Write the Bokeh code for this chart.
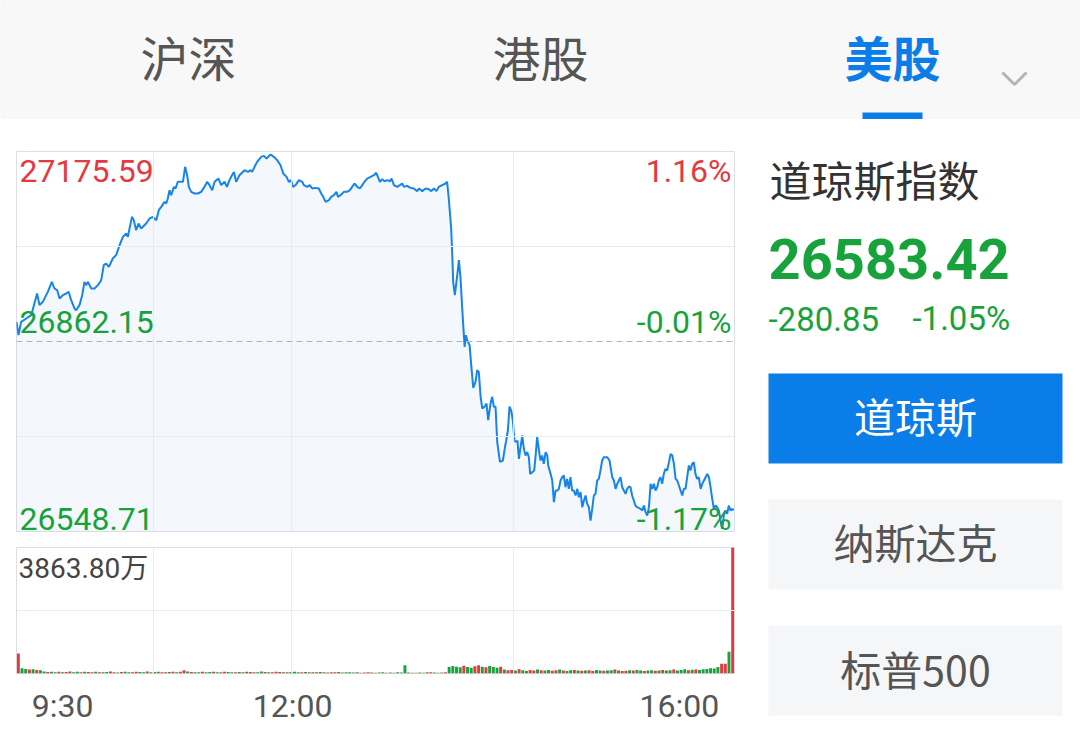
from bokeh.plotting import figure
from bokeh.models import ColumnDataSource, Range1d, Span, FixedTicker
from bokeh.layouts import column, row
from bokeh.core.properties import value
from bokeh.embed import file_html
from bokeh.resources import INLINE

# ---------------- data ----------------
tabs = ["沪深", "港股", "美股"]
index_name = "道琼斯指数"
last_price = "26583.42"
change = "-280.85"
change_pct = "-1.05%"
buttons = ["道琼斯", "纳斯达克", "标普500"]

price_high = 27175.59
price_low = 26548.71
price_mid = 26862.15
left_labels = ["27175.59", "26862.15", "26548.71"]
pct_labels = ["1.16%", "-0.01%", "-1.17%"]
vol_max = 3863.80
vol_max_label = "3863.80万"
time_labels = ["9:30", "12:00", "16:00"]
time_ticks = [25, 150, 360]          # minutes after 9:30 where the labels sit
grid_minutes = [74.4, 149.4, 270.0]  # vertical grid lines

minutes = [
    0.0, 1.1, 2.5, 5.3, 8.0, 11.2, 12.5, 14.3, 16.1, 17.0, 19.2, 20.6, 22.1, 23.4, 25.2, 27.0,
    28.3, 29.7, 31.5, 32.4, 34.2, 35.7, 36.9, 37.8, 38.8, 40.6, 42.4, 44.2, 46.0, 47.4, 48.7,
    50.2, 52.3, 54.1, 56.0, 57.8, 59.6, 60.5, 61.4, 62.7, 63.7, 65.0, 66.3, 67.7, 70.4, 72.3,
    74.1, 75.9, 77.3, 78.6, 80.4, 81.3, 82.2, 83.1, 84.0, 85.5, 86.4, 87.6, 90.4, 91.6, 92.7,
    93.6, 94.9, 96.7, 98.5, 100.3, 102.1, 103.6, 104.8, 106.3, 107.6, 109.7, 111.2, 113.0,
    114.3, 115.7, 116.6, 118.1, 119.3, 121.1, 123.9, 125.7, 127.1, 128.0, 129.3, 130.7, 132.9,
    134.4, 135.8, 138.0, 139.8, 141.6, 143.4, 144.9, 146.7, 147.9, 149.2, 150.1, 151.6, 153.4,
    155.2, 156.1, 157.9, 159.3, 160.6, 162.4, 164.2, 165.5, 166.6, 167.9, 169.7, 170.9, 172.4,
    173.8, 174.6, 176.0, 177.8, 179.6, 181.1, 182.3, 183.6, 185.1, 186.5, 187.8, 189.0, 190.5,
    192.3, 194.1, 195.4, 196.3, 197.4, 198.6, 199.9, 201.4, 202.8, 203.7, 205.0, 206.8, 208.2,
    209.5, 210.4, 212.2, 214.0, 215.8, 217.6, 218.6, 220.4, 222.2, 224.0, 225.3, 226.7, 228.1,
    229.4, 231.2, 233.0, 233.9, 234.8, 236.1, 236.7, 237.2, 238.1, 239.4, 240.3, 241.2, 242.1,
    243.0, 243.4, 244.1, 244.8, 246.1, 247.0, 248.1, 249.3, 250.2, 251.1, 252.1, 253.0, 254.2,
    255.3, 256.2, 257.5, 258.4, 259.3, 260.2, 261.1, 262.6, 264.2, 265.3, 266.0, 266.9, 267.8,
    268.7, 269.6, 270.5, 271.4, 272.1, 272.9, 273.8, 274.7, 275.6, 276.5, 277.4, 278.3, 279.0,
    280.1, 281.2, 281.9, 282.8, 283.7, 284.6, 285.5, 286.4, 287.4, 288.3, 288.8, 290.1, 291.0,
    291.9, 292.8, 293.7, 294.6, 295.5, 296.4, 297.3, 298.2, 299.1, 300.0, 300.9, 301.8, 302.7,
    303.7, 304.6, 305.5, 306.4, 307.3, 308.2, 309.1, 310.0, 310.9, 311.8, 312.7, 313.6, 314.5,
    315.4, 316.3, 317.2, 318.1, 319.0, 320.9, 322.1, 322.7, 323.6, 324.5, 325.4, 326.3, 327.2,
    328.1, 329.0, 329.9, 330.8, 331.7, 332.6, 333.5, 334.4, 335.3, 336.2, 337.1, 339.0, 339.9,
    340.8, 341.7, 342.6, 343.5, 344.0, 344.4, 345.3, 346.2, 347.1, 348.0, 348.9, 349.8, 350.7,
    351.6, 352.5, 353.4, 354.4, 355.3, 356.2, 357.1, 358.0, 358.9, 359.8, 360.7, 361.6, 362.5,
    363.4, 364.3, 365.2, 366.1, 367.0, 367.9, 368.8, 369.7, 370.6, 371.6, 372.5, 373.4, 374.3,
    375.2, 376.1, 377.0, 377.9, 378.8, 379.7, 380.6, 381.5, 382.4, 383.3, 384.2, 385.1, 386.0,
    386.9, 387.8, 388.8, 389.5,
]
prices = [
    26894.6, 26872.6, 26894.6, 26900.1, 26905.6, 26941.3, 26922.1, 26927.6, 26938.6, 26944.1,
    26960.6, 26949.6, 26946.8, 26933.1, 26938.6, 26941.3, 26944.1, 26930.3, 26916.6, 26913.8,
    26922.1, 26938.6, 26960.6, 26955.1, 26960.6, 26949.6, 26949.6, 26955.1, 26963.3, 26988.1,
    26990.8, 26985.3, 26999.1, 27004.6, 27021.0, 27034.8, 27040.3, 27034.8, 27048.6, 27067.8,
    27062.3, 27045.8, 27056.8, 27048.6, 27056.8, 27065.1, 27067.8, 27062.3, 27078.8, 27084.3,
    27092.5, 27089.8, 27098.0, 27111.8, 27103.5, 27117.3, 27114.5, 27125.6, 27125.6, 27150.3,
    27136.5, 27117.3, 27109.0, 27106.3, 27106.3, 27109.0, 27117.3, 27125.6, 27120.1, 27111.8,
    27125.6, 27131.0, 27120.1, 27125.6, 27117.3, 27128.3, 27133.8, 27142.0, 27125.6, 27136.5,
    27144.8, 27142.0, 27144.8, 27142.0, 27150.3, 27158.5, 27166.8,
    27168.4, 27164.0, 27170.6, 27166.8, 27161.3, 27153.0, 27139.3, 27133.8, 27125.6, 27128.3,
    27117.3, 27120.1, 27128.3, 27125.6, 27120.1, 27117.3, 27120.1, 27114.5, 27115.6, 27114.5,
    27106.3, 27100.8, 27092.5, 27095.3, 27100.8, 27103.5, 27109.0, 27100.8, 27103.5, 27109.0,
    27109.0, 27111.8, 27117.3, 27122.8, 27117.3, 27114.5, 27120.1, 27125.6, 27131.0, 27133.8,
    27136.5, 27140.4, 27133.8, 27125.6, 27130.0, 27126.6, 27128.3, 27126.6, 27131.0, 27120.1,
    27117.3, 27120.1, 27122.8, 27117.3, 27119.0, 27115.6, 27114.5, 27110.2, 27114.5, 27110.2,
    27114.5, 27113.4, 27110.2, 27114.5, 27110.2, 27117.3, 27120.1, 27122.8, 27125.6, 27098.0,
    27048.6, 27004.6, 26960.6, 26938.6, 26971.6, 26996.3, 26966.1, 26916.6, 26872.6, 26853.3,
    26872.6, 26864.3, 26856.1, 26823.1, 26785.7, 26795.6, 26814.9, 26812.1, 26770.9, 26751.6,
    26754.4, 26759.9, 26732.4, 26759.9, 26770.9, 26754.4, 26754.4, 26696.6, 26663.6,
    26665.8, 26687.8, 26698.8, 26715.3, 26754.9, 26748.3, 26731.8, 26698.8, 26696.1, 26698.8,
    26668.6, 26687.8, 26707.1, 26685.1, 26674.1, 26679.6, 26671.3, 26643.8, 26646.6, 26649.3,
    26671.3, 26704.3, 26685.1, 26665.8, 26674.1, 26660.3, 26679.6, 26674.1, 26657.6, 26643.8,
    26632.8, 26597.1, 26616.3, 26616.3, 26619.1, 26632.8, 26638.3, 26641.1, 26621.8, 26635.6,
    26619.1, 26638.3, 26616.3, 26616.3, 26608.1, 26619.1, 26605.3, 26613.6, 26588.8, 26599.8,
    26608.1, 26594.3, 26588.8, 26566.8, 26586.1, 26608.1, 26610.8, 26632.8, 26635.6, 26649.3,
    26665.8, 26671.3, 26671.3, 26665.8, 26654.8, 26638.3, 26632.8, 26619.1, 26627.3, 26632.8,
    26638.3, 26621.8, 26616.3, 26610.8, 26619.1, 26622.9, 26621.8, 26608.1, 26599.8, 26591.6,
    26588.8, 26586.1, 26583.3, 26591.6, 26580.6, 26575.1, 26588.8, 26608.1, 26627.3, 26619.1,
    26627.3, 26616.3, 26621.8, 26632.8, 26638.3, 26627.3, 26643.8, 26652.1, 26649.3, 26663.1,
    26676.8, 26674.1, 26660.3, 26635.6, 26632.8, 26624.6, 26616.3, 26608.1, 26619.1, 26619.1,
    26638.3, 26657.6, 26649.3, 26660.3, 26663.1, 26643.8, 26635.6, 26638.3, 26619.1, 26627.3,
    26632.8, 26638.3, 26643.8, 26638.3, 26621.8, 26602.6, 26586.1, 26591.6, 26588.8, 26583.3,
    26566.8, 26553.1, 26575.1, 26583.3, 26577.8, 26591.6, 26583.3, 26586.1, 26583.42,
]

# volume per 2-minute bar, in 万 shares
volumes = [
    613, 160, 140, 120, 130, 110, 100,
    60, 45, 55, 40, 50, 35, 45, 60, 40, 50, 35, 55, 45, 40,
    50, 40, 35, 45, 60, 40, 30, 45, 55, 40, 35, 50, 45, 40, 60, 35, 45, 50, 40, 35,
    45, 55, 40, 50, 100, 60, 45, 40, 35, 50, 40, 45, 55, 35, 40, 50, 45, 40, 35, 45,
    40, 50, 45, 35, 40, 60, 45, 40, 35, 50, 45, 40, 35, 45, 50, 40, 35, 45, 40, 35,
    40, 45, 35, 30, 40, 35, 45, 30, 35, 40, 30, 35, 25, 30, 35, 30, 25, 30, 35, 25,
    30, 25, 35, 30, 250, 30, 25, 20, 30, 25, 35, 40, 30, 25, 30, 35,
    200, 230, 210, 190, 240, 200, 180, 220, 250, 210, 190, 230, 200, 180, 210,
    120, 100, 110, 90, 130, 100, 80, 110, 95, 120, 100, 90, 110, 85, 100, 120, 90, 80, 100,
    110, 95, 85, 90, 100, 80, 110, 90, 85, 95, 100, 120, 90, 80, 85, 100, 90, 110, 95, 80,
    90, 100, 85, 95, 110, 90, 100, 120, 95, 110, 130, 100, 115, 120, 110, 130,
    140, 160, 150, 200, 300, 300, 665,
    3863.80,
]
# r = up bar (red), g = down bar (green)
vol_dir = ("rggrgrggrg" "grgrrggrgr" "rgrggrrgrg" "grrggrgrgr" "rgrgrrgrgg"
           "rggrgrrggr" "grgrrggrgr" "rrgrgggrgr" "grgrgrrgrg" "ggrgrrgrgg"
           "rgrgggrgrg" "grrgrgrggg" "grggrrgrgg" "grgrrgrggr" "rgrggrrgrg"
           "grgrgrrggr" "ggrgrrgrgg" "rggrgrggrg" "ggrgrggggg" "grrgr")

# ---------------- style ----------------
RED = "#e4393e"
GREEN = "#18a23c"
BLUE = "#0b7de8"
LINE_BLUE = "#1784eb"
GRID = "#e8ecf2"
FRAME = "#dadee5"
NUM_FONT = value("Roboto")
CJK_FONT = value("Noto Sans CJK SC")


def blank(width, height, x_range, y_range, **kw):
    p = figure(width=width, height=height, x_range=x_range, y_range=y_range,
               output_backend="svg", toolbar_location=None, tools="",
               x_axis_location=kw.pop("x_axis_location", None), y_axis_location=None,
               **kw)
    p.grid.visible = False
    return p


# ---------------- header (page coordinates) ----------------
header = blank(1080, 119, Range1d(0, 1080), Range1d(119, 0),
               min_border=0, background_fill_color="#f8f8f8",
               border_fill_color="#f8f8f8", outline_line_color=None)
hsrc = ColumnDataSource(dict(x=[188, 540], y=[55, 55], t=tabs[:2]))
header.text(x="x", y="y", text="t", text_color="#555555", source=hsrc,
            text_font=CJK_FONT, text_font_size="48px", text_align="center",
            text_baseline="middle")
header.text(x=[892], y=[55], text=[tabs[2]], text_color=BLUE, text_font=CJK_FONT,
            text_font_size="48px", text_align="center", text_baseline="middle",
            text_font_style="bold")
header.quad(left=[862], right=[922], top=[112], bottom=[119], color=BLUE, line_color=None)
header.line(x=[1002, 1014, 1026], y=[72, 84, 72], line_color="#b4b4b4", line_width=3)

# ---------------- price chart ----------------
price = blank(750, 421, Range1d(0, 390), Range1d(price_low, price_high),
              min_border_left=16, min_border_right=16, min_border_top=32,
              min_border_bottom=9, outline_line_color=FRAME,
              background_fill_color="white", border_fill_color="white")
for m in grid_minutes:
    price.add_layout(Span(location=m, dimension="height", line_color=GRID, line_width=1))
q = (price_high - price_low) / 4
for lv in [price_low + q, price_low + 3 * q]:
    price.add_layout(Span(location=lv, dimension="width", line_color=GRID, line_width=1))
price.add_layout(Span(location=price_mid, dimension="width", line_color="#b3b3b3",
                      line_width=1, line_dash="6 4"))

psrc = ColumnDataSource(dict(m=minutes, p=prices))
price.varea(x="m", y1=price_low, y2="p", source=psrc, fill_color="#2a7fe0", fill_alpha=0.05)
price.line(x="m", y="p", source=psrc, line_color=LINE_BLUE, line_width=2)

offsets = [19, -20, -13]   # label centre relative to the top / middle / bottom line
lsrc = ColumnDataSource(dict(
    x=[0, 0, 0], y=[price_high, price_mid, price_low], t=left_labels,
    c=[RED, GREEN, GREEN], off=offsets))
price.text(x="x", y="y", text="t", text_color="c", y_offset="off", x_offset=3,
           source=lsrc, text_font=NUM_FONT, text_font_size="32px",
           text_align="left", text_baseline="alphabetic")
rsrc = ColumnDataSource(dict(
    x=[390, 390, 390], y=[price_high, price_mid, price_low], t=pct_labels,
    c=[RED, GREEN, GREEN], off=offsets))
price.text(x="x", y="y", text="t", text_color="c", y_offset="off", x_offset=-3,
           source=rsrc, text_font=NUM_FONT, text_font_size="32px",
           text_align="right", text_baseline="alphabetic")

# ---------------- volume chart ----------------
vol = blank(750, 195, Range1d(0, 390), Range1d(0, vol_max),
            x_axis_location="below",
            min_border_left=16, min_border_right=16, min_border_top=7,
            min_border_bottom=62, outline_line_color=FRAME,
            background_fill_color="white", border_fill_color="white")
for m in grid_minutes:
    vol.add_layout(Span(location=m, dimension="height", line_color=GRID, line_width=1))
vol.add_layout(Span(location=vol_max / 2, dimension="width", line_color=GRID, line_width=1))

bar_t = [2 * i + 1 for i in range(len(volumes))]
bar_c = [RED if d == "r" else GREEN for d in vol_dir[:len(volumes)]]
vol.vbar(x=bar_t, top=volumes, width=1.6, color=bar_c, line_color=None)
vol.text(x=[0], y=[vol_max], text=[vol_max_label], x_offset=2, y_offset=21,
         text_color="#444444", text_font=value("Roboto, 'Noto Sans CJK SC'"),
         text_font_size="28px", text_baseline="alphabetic")

ax = vol.xaxis[0]
ax.ticker = FixedTicker(ticks=time_ticks)
ax.major_label_overrides = {t: s for t, s in zip(time_ticks, time_labels)}
ax.axis_line_color = None
ax.major_tick_line_color = None
ax.minor_tick_line_color = None
ax.major_label_text_font = "Roboto"
ax.major_label_text_font_size = "32px"
ax.major_label_text_color = "#555555"
ax.major_label_standoff = 7

# ---------------- right panel (page coordinates) ----------------
side = blank(330, 616, Range1d(750, 1080), Range1d(735, 119), min_border=0,
             outline_line_color=None, background_fill_color="white",
             border_fill_color="white")
side.text(x=[769], y=[178], text=[index_name], text_font=CJK_FONT,
          text_font_size="42px", text_color="#333333", text_baseline="middle")
side.text(x=[768], y=[258], text=[last_price], text_font=NUM_FONT,
          text_font_size="56px", text_font_style="bold", text_color=GREEN,
          text_baseline="alphabetic")
side.text(x=[768, 912], y=[318, 318], text=[change, change_pct], text_font=NUM_FONT,
          text_font_size="33px", text_color=GREEN, text_baseline="alphabetic")
side.quad(left=[768, 768, 768], right=[1062, 1062, 1062], top=[373, 499, 625],
          bottom=[463, 589, 715], fill_color=[BLUE, "#f5f6f8", "#f5f6f8"], line_color=None)
side.text(x=[915, 915, 915], y=[414, 540, 667], text=buttons,
          text_color=["white", "#555555", "#555555"], text_font=CJK_FONT,
          text_font_size="41px", text_align="center", text_baseline="middle")

layout = column(header, row(column(price, vol), side))
open("out.html", "w").write(file_html(layout, INLINE))
